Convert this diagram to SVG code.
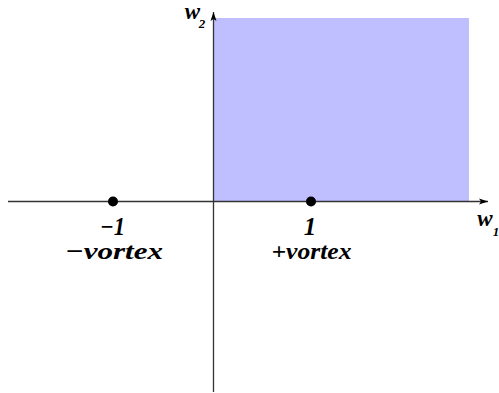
<svg xmlns="http://www.w3.org/2000/svg" width="499" height="393" viewBox="0 0 499 393">
<style>
.lbl{font-weight:bold;font-style:italic;fill:#000;text-anchor:middle}
.ax{stroke:#333;stroke-width:1.3;fill:none}
</style>
<defs>
<marker id="arr" markerWidth="10" markerHeight="8" refX="9" refY="4" orient="auto" markerUnits="userSpaceOnUse">
<path d="M0,1 L9,4 L0,7 L2,4 Z" fill="#000"/>
</marker>
</defs>
<rect id="region" x="214" y="18" width="255" height="183" fill="#bfbfff"/>
<g id="connectors">
<line class="ax" x1="8" y1="201.5" x2="488" y2="201.5" marker-end="url(#arr)"/>
<line class="ax" x1="213.5" y1="392" x2="213.5" y2="12" marker-end="url(#arr)"/>
</g>
<g font-family="Liberation Serif, Times New Roman, serif">
<g id="node-minus">
<circle cx="113" cy="201.5" r="5" fill="#000"/>
<text class="lbl" x="112.5" y="235" font-size="25" textLength="25" lengthAdjust="spacingAndGlyphs">−1</text>
<text class="lbl" x="114" y="259" font-size="24" textLength="98" lengthAdjust="spacingAndGlyphs">−vortex</text>
</g>
<g id="node-plus">
<circle cx="311" cy="201.5" r="5" fill="#000"/>
<text class="lbl" x="310" y="235" font-size="25">1</text>
<text class="lbl" x="311.5" y="259" font-size="24" textLength="80" lengthAdjust="spacingAndGlyphs">+vortex</text>
</g>
<g id="label-w1">
<text class="lbl" x="485" y="226" font-size="23">w</text>
<text class="lbl" x="496" y="236" font-size="13">1</text>
</g>
<g id="label-w2">
<text class="lbl" x="192.5" y="19" font-size="23">w</text>
<text class="lbl" x="202" y="28" font-size="13">2</text>
</g>
</g>
</svg>
